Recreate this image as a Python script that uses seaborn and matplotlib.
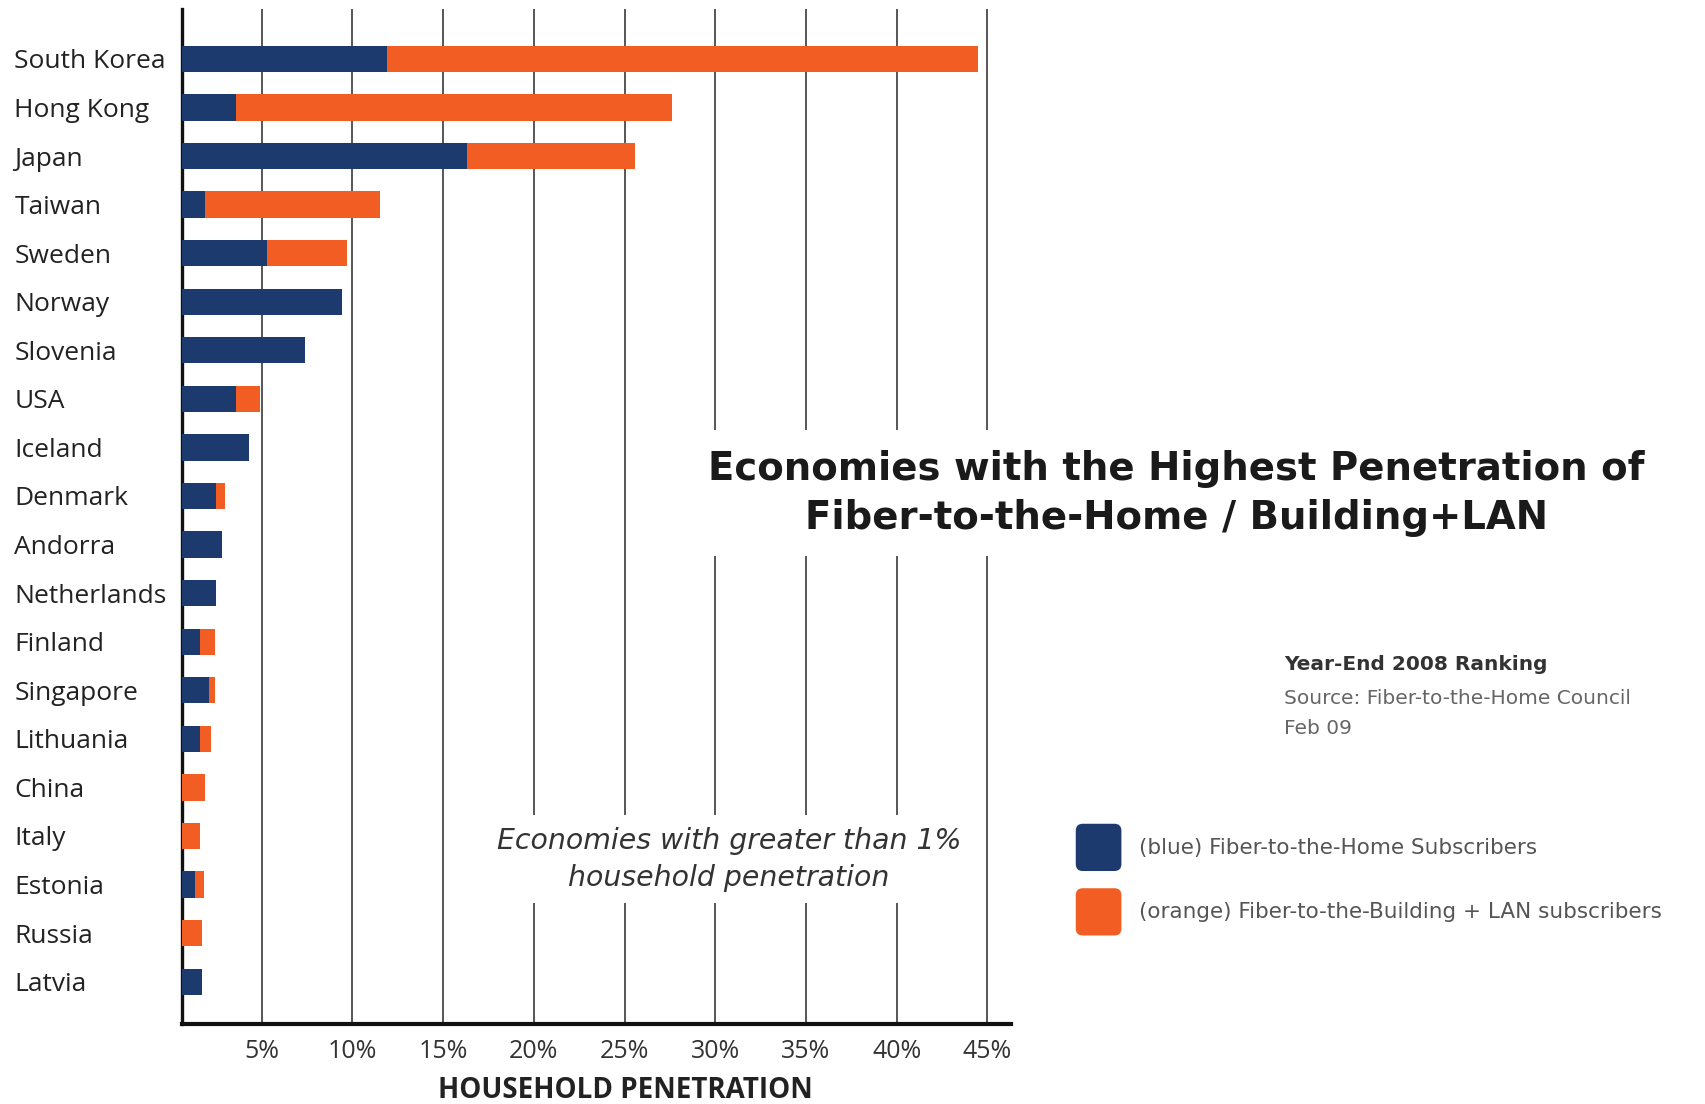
import matplotlib
matplotlib.use("Agg")
import matplotlib.pyplot as plt
import pandas as pd
import seaborn as sns
from matplotlib.container import BarContainer
from matplotlib.legend_handler import HandlerPatch, update_from_first_child
from matplotlib.patches import FancyBboxPatch

# values (household penetration, %)
countries = [
    "South Korea", "Hong Kong", "Japan", "Taiwan", "Sweden", "Norway",
    "Slovenia", "USA", "Iceland", "Denmark", "Andorra", "Netherlands",
    "Finland", "Singapore", "Lithuania", "China", "Italy", "Estonia",
    "Russia", "Latvia",
]
ftth = [11.9, 3.6, 16.3, 1.9, 5.3, 9.4, 7.4, 3.6, 4.3, 2.5, 2.8, 2.5,
        1.6, 2.1, 1.6, 0.0, 0.0, 1.3, 0.0, 1.7]
fttb_lan = [32.6, 24.0, 9.3, 9.6, 4.4, 0.0, 0.0, 1.3, 0.0, 0.5, 0.0, 0.0,
            0.8, 0.3, 0.6, 1.9, 1.6, 0.5, 1.7, 0.0]
tick_vals = [5, 10, 15, 20, 25, 30, 35, 40, 45]
tick_labels = [f"{v}%" for v in tick_vals]

BLUE = "#1d3a6e"
ORANGE = "#f15d22"

sns.set_theme(style="white")
plt.rcParams["font.family"] = ["Open Sans", "DejaVu Sans"]

df = pd.DataFrame({"country": countries, "ftth": ftth, "fttb": fttb_lan})
df["total"] = df["ftth"] + df["fttb"]

fig = plt.figure(figsize=(17.05, 11.04), dpi=100)
ax = fig.add_axes([0.107, 0.0725, 0.486, 0.9195])

# stacked bars: total in orange, FTTH on top in blue
sns.barplot(data=df, x="total", y="country", color=ORANGE, saturation=1,
            width=0.54, linewidth=0, ax=ax,
            label="(orange) Fiber-to-the-Building + LAN subscribers", zorder=3)
sns.barplot(data=df, x="ftth", y="country", color=BLUE, saturation=1,
            width=0.54, linewidth=0, ax=ax,
            label="(blue) Fiber-to-the-Home Subscribers", zorder=4)

handles, labels = ax.get_legend_handles_labels()
if ax.get_legend() is not None:
    ax.get_legend().remove()

ax.set_xlim(0.63, 46.3)
ax.set_ylim(19.87, -1.03)
ax.set_xticks(tick_vals)
ax.set_xticklabels(tick_labels, fontsize=18, color="#333333")
ax.tick_params(axis="both", length=0)
ax.tick_params(axis="x", pad=11)
ax.tick_params(axis="y", pad=121)
for lbl in ax.get_yticklabels():
    lbl.set_horizontalalignment("left")
    lbl.set_fontsize(19)
    lbl.set_color("#222222")
ax.set_xlabel("")
ax.set_ylabel("")

for x in tick_vals:
    ax.axvline(x, color="#3a3a3a", lw=1.2, zorder=1)

for side in ["top", "right"]:
    ax.spines[side].set_visible(False)
ax.spines["left"].set_color("#111111")
ax.spines["left"].set_linewidth(2.4)
ax.spines["bottom"].set_color("#111111")
ax.spines["bottom"].set_linewidth(3.0)

fig.text(0.367, 1 - 1091 / 1104, "HOUSEHOLD PENETRATION", ha="center", va="center",
         fontsize=20, fontweight="bold", color="#222222")

# title in a white box over the gridlines
fig.text(0.69, 0.553,
         "Economies with the Highest Penetration of\nFiber-to-the-Home / Building+LAN",
         ha="center", va="center", multialignment="center", fontsize=27.8,
         fontweight="bold", color="#1a1a1a", family="DejaVu Sans", linespacing=1.38,
         zorder=10, bbox=dict(facecolor="white", edgecolor="none", pad=14))

fig.text(0.4275, 0.2215,
         "Economies with greater than 1%\nhousehold penetration",
         ha="center", va="center", multialignment="center", fontsize=20.4,
         style="italic", color="#333333", family="DejaVu Sans", linespacing=1.45,
         zorder=10, bbox=dict(facecolor="white", edgecolor="none", pad=8))

fig.text(1284 / 1705, 1 - 665 / 1104, "Year-End 2008 Ranking", ha="left", va="center",
         fontsize=14.5, fontweight="bold", color="#333333", family="DejaVu Sans")
fig.text(1284 / 1705, 1 - 698 / 1104, "Source: Fiber-to-the-Home Council", ha="left",
         va="center", fontsize=14.5, color="#666666", family="DejaVu Sans")
fig.text(1284 / 1705, 1 - 729 / 1104, "Feb 09", ha="left", va="center",
         fontsize=14.5, color="#666666", family="DejaVu Sans")


def rounded_square(legend, orig_handle, xdescent, ydescent, width, height, fontsize):
    return FancyBboxPatch((-xdescent, -ydescent), width, height,
                          boxstyle="round,pad=0,rounding_size=5")


order = [1, 0]
leg = fig.legend([handles[i] for i in order], [labels[i] for i in order],
                 loc="upper left", bbox_to_anchor=(1065 / 1705, 1 - 813 / 1104),
                 frameon=False, borderpad=0, handlelength=2.12, handleheight=3.0,
                 handletextpad=0.8, labelspacing=0.8,
                 handler_map={BarContainer: HandlerPatch(patch_func=rounded_square,
                                                         update_func=update_from_first_child)},
                 prop={"family": "DejaVu Sans", "size": 15.5})
for t in leg.get_texts():
    t.set_color("#555555")

fig.savefig("out.png", dpi=100, facecolor="white")
